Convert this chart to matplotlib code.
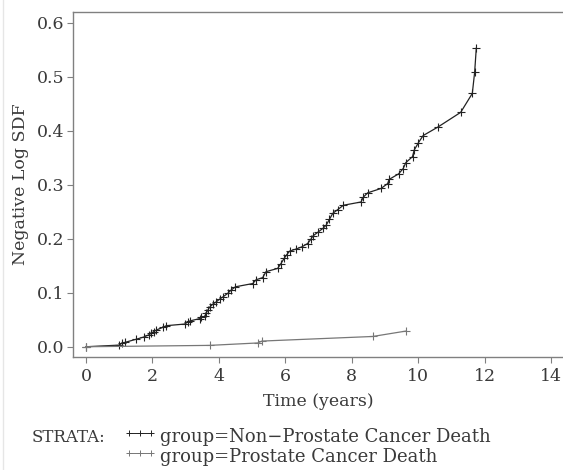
import matplotlib
matplotlib.use("Agg")
import matplotlib.pyplot as plt
from matplotlib.lines import Line2D

# Non-Prostate Cancer Death: time (years) and negative log SDF
t_non = [0.0, 1.0, 1.07, 1.17, 1.52, 1.74, 1.89, 1.97, 2.04, 2.12, 2.32, 2.42,
         2.97, 3.07, 3.14, 3.42, 3.47, 3.57, 3.62, 3.67, 3.72, 3.82, 3.92, 4.02,
         4.14, 4.27, 4.37, 4.50, 5.02, 5.12, 5.32, 5.42, 5.77, 5.87, 5.97, 6.04,
         6.13, 6.33, 6.50, 6.67, 6.77, 6.83, 6.98, 7.13, 7.23, 7.33, 7.43, 7.58,
         7.75, 8.28, 8.35, 8.48, 8.88, 9.08, 9.13, 9.41, 9.55, 9.63, 9.83, 9.88,
         10.01, 10.15, 10.60, 11.28, 11.63, 11.70, 11.75]
y_non = [0.0, 0.003, 0.006, 0.008, 0.014, 0.018, 0.022, 0.025, 0.028, 0.031, 0.036, 0.039,
         0.042, 0.046, 0.048, 0.052, 0.055, 0.056, 0.062, 0.068, 0.073, 0.079, 0.083, 0.088,
         0.093, 0.099, 0.105, 0.111, 0.117, 0.124, 0.128, 0.139, 0.145, 0.154, 0.164, 0.170,
         0.177, 0.181, 0.185, 0.191, 0.199, 0.205, 0.212, 0.219, 0.225, 0.236, 0.247, 0.254,
         0.262, 0.268, 0.277, 0.285, 0.293, 0.302, 0.310, 0.320, 0.330, 0.341, 0.352, 0.364,
         0.378, 0.391, 0.407, 0.434, 0.469, 0.508, 0.553]

# Prostate Cancer Death
t_pro = [0.0, 3.72, 5.17, 5.30, 8.63, 9.63]
y_pro = [0.0, 0.0025, 0.007, 0.0105, 0.019, 0.029]

xticks = [0, 2, 4, 6, 8, 10, 12, 14]
yticks = [0.0, 0.1, 0.2, 0.3, 0.4, 0.5, 0.6]
legend_labels = ["group=Non\u2212Prostate Cancer Death", "group=Prostate Cancer Death"]

plt.rcParams['font.family'] = ['DejaVu Serif']
fig = plt.figure(figsize=(5.63, 4.70), dpi=100)
ax = fig.add_axes([73/563, 1 - 357/470, 1 - 73/563, (357 - 12)/470])

c_non = '#222222'
c_pro = '#777777'
txt = '#3a3a3a'
ax.plot(t_non, y_non, color=c_non, lw=0.9, marker='+', ms=6, mew=0.8)
ax.plot(t_pro, y_pro, color=c_pro, lw=0.9, marker='+', ms=6, mew=0.8)

ax.set_xlim(-0.39, 14.36)
ax.set_ylim(-0.019, 0.6198)
ax.set_xticks(xticks)
ax.set_yticks(yticks)
ax.set_xticklabels([str(v) for v in xticks])
ax.set_yticklabels([f"{v:.1f}" for v in yticks])

for s in ['left', 'bottom', 'top']:
    ax.spines[s].set_color('#808080')
    ax.spines[s].set_linewidth(1.0)
ax.spines['right'].set_visible(False)
ax.tick_params(direction='out', length=4, width=0.8, color='#808080',
               labelcolor=txt, labelsize=12.5)
ax.tick_params(axis='y', pad=2)
ax.tick_params(axis='x', pad=4)
ax.set_xlabel('Time (years)', fontsize=12.5, color=txt, labelpad=6)
ax.set_ylabel('Negative Log SDF', fontsize=12.5, color=txt, labelpad=6)

# legend below
fig.text(32/563, 1 - 437/470, 'STRATA:', fontsize=12, color=txt, va='center', ha='left')
for i, (lab, col) in enumerate(zip(legend_labels, [c_non, c_pro])):
    yy = 1 - (437 + 20*i)/470
    ln = Line2D([129/563, 140/563, 151/563], [yy + 0.008, yy + 0.008, yy + 0.008],
                transform=fig.transFigure, color=col, lw=0.7, marker='+', ms=5, mew=0.7)
    fig.add_artist(ln)
    fig.text(160/563, yy, lab, fontsize=13, color=txt, va='center', ha='left')

# faint page border at left
fig.add_artist(Line2D([3/563, 3/563], [0, 1], transform=fig.transFigure, color='#e6e6e6', lw=1))

fig.savefig('out.png', dpi=100)
